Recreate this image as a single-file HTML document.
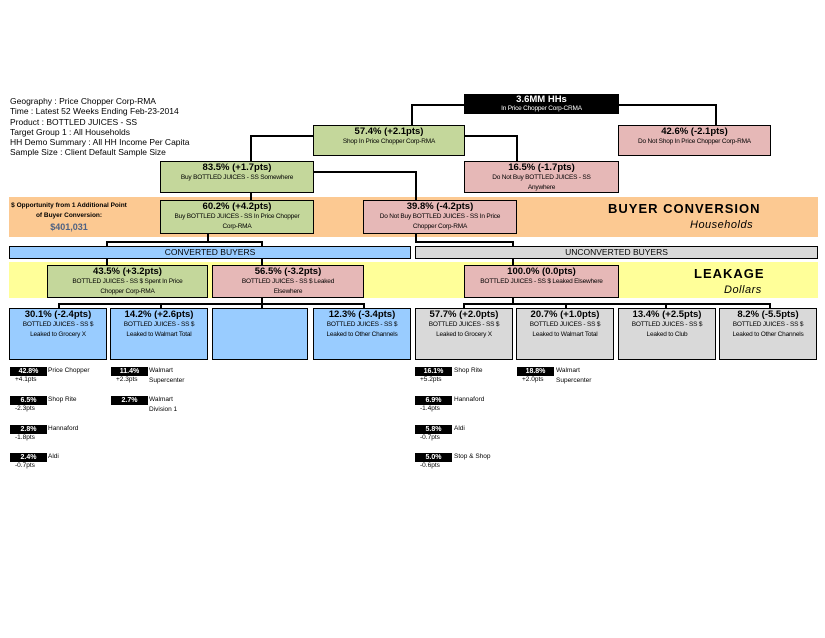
<!DOCTYPE html>
<html><head><meta charset="utf-8"><style>
body{margin:0;width:825px;height:638px;background:#fff;position:relative;overflow:hidden;font-family:"Liberation Sans",Arial,sans-serif;}
body>div{position:absolute;box-sizing:border-box;}
.b{border:1.5px solid #000;text-align:center;color:#000;}
.t{font-size:9.5px;font-weight:bold;line-height:11px;margin-top:0px;}
.s{font-size:6.5px;line-height:9.5px;letter-spacing:-0.2px;}
.g{background:#c4d79b;}.p{background:#e6b8b7;}.bl{background:#99ccff;}.gr{background:#d9d9d9;}
.h{height:1.5px;background:#000;}.v{width:1.5px;background:#000;}
.tag{background:#000;color:#fff;font-size:7px;font-weight:bold;text-align:center;width:37px;height:9px;line-height:9px;}
.lb{font-size:6.5px;line-height:10px;color:#000;}
.pt{font-size:6.5px;color:#000;}
</style></head><body>
<div style="left:10px;top:96px;font-size:8.5px;line-height:10.3px;">Geography : Price Chopper Corp-RMA<br>Time : Latest 52 Weeks Ending Feb-23-2014<br>Product : BOTTLED JUICES - SS<br>Target Group 1 : All Households<br>HH Demo Summary : All HH Income Per Capita<br>Sample Size : Client Default Sample Size</div>

<div style="left:9px;top:197px;width:809px;height:40px;background:#fcc992"></div>
<div style="left:9px;top:262px;width:809px;height:36px;background:#ffff99"></div>

<!-- connectors -->
<div class="h" style="left:411px;top:104px;width:53px"></div>
<div class="v" style="left:411px;top:104px;height:21px"></div>
<div class="h" style="left:619px;top:104px;width:97px"></div>
<div class="v" style="left:715px;top:104px;height:21px"></div>
<div class="h" style="left:250px;top:135px;width:63px"></div>
<div class="v" style="left:250px;top:135px;height:26px"></div>
<div class="h" style="left:465px;top:135px;width:52px"></div>
<div class="v" style="left:516px;top:135px;height:26px"></div>
<div class="v" style="left:250px;top:192px;height:8px"></div>
<div class="h" style="left:313px;top:171px;width:103px"></div>
<div class="v" style="left:415px;top:171px;height:29px"></div>
<div class="v" style="left:207px;top:233px;height:8px"></div>
<div class="h" style="left:106px;top:241px;width:156px"></div>
<div class="v" style="left:106px;top:241px;height:6px"></div>
<div class="v" style="left:261px;top:241px;height:6px"></div>
<div class="v" style="left:415px;top:233px;height:8px"></div>
<div class="h" style="left:415px;top:241px;width:98px"></div>
<div class="v" style="left:512px;top:241px;height:6px"></div>
<div class="v" style="left:106px;top:258px;height:7px"></div>
<div class="v" style="left:261px;top:258px;height:7px"></div>
<div class="v" style="left:512px;top:258px;height:7px"></div>
<div class="v" style="left:261px;top:297px;height:6px"></div>
<div class="h" style="left:58px;top:303px;width:306px"></div>
<div class="v" style="left:58px;top:303px;height:5px"></div>
<div class="v" style="left:160px;top:303px;height:5px"></div>
<div class="v" style="left:261px;top:303px;height:5px"></div>
<div class="v" style="left:363px;top:303px;height:5px"></div>
<div class="v" style="left:512px;top:297px;height:6px"></div>
<div class="h" style="left:463px;top:303px;width:308px"></div>
<div class="v" style="left:463px;top:303px;height:5px"></div>
<div class="v" style="left:565px;top:303px;height:5px"></div>
<div class="v" style="left:665px;top:303px;height:5px"></div>
<div class="v" style="left:769px;top:303px;height:5px"></div>

<!-- boxes -->
<div class="b" style="left:464px;top:94px;width:155px;height:20px;background:#000;color:#fff"><div class="t" style="margin-top:0;line-height:10px">3.6MM HHs</div><div class="s" style="line-height:7px">In Price Chopper Corp-CRMA</div></div>
<div class="b g" style="left:313px;top:125px;width:152px;height:31px"><div class="t">57.4% (+2.1pts)</div><div class="s">Shop In Price Chopper Corp-RMA</div></div>
<div class="b p" style="left:618px;top:125px;width:153px;height:31px"><div class="t">42.6% (-2.1pts)</div><div class="s">Do Not Shop In Price Chopper Corp-RMA</div></div>
<div class="b g" style="left:160px;top:161px;width:154px;height:32px"><div class="t">83.5% (+1.7pts)</div><div class="s">Buy BOTTLED JUICES - SS Somewhere</div></div>
<div class="b p" style="left:464px;top:161px;width:155px;height:32px"><div class="t">16.5% (-1.7pts)</div><div class="s">Do Not Buy BOTTLED JUICES - SS<br>Anywhere</div></div>
<div class="b g" style="left:160px;top:200px;width:154px;height:34px"><div class="t">60.2% (+4.2pts)</div><div class="s">Buy BOTTLED JUICES - SS In Price Chopper<br>Corp-RMA</div></div>
<div class="b p" style="left:363px;top:200px;width:154px;height:34px"><div class="t">39.8% (-4.2pts)</div><div class="s">Do Not Buy BOTTLED JUICES - SS In Price<br>Chopper Corp-RMA</div></div>

<div style="left:4px;top:201px;width:130px;text-align:center;font-size:6.5px;font-weight:bold;line-height:10px">$ Opportunity from 1 Additional Point<br>of Buyer Conversion:</div>
<div style="left:4px;top:222px;width:130px;text-align:center;font-size:9px;font-weight:bold;color:#4f6283">$401,031</div>
<div style="left:608px;top:201px;font-size:13px;font-weight:bold;letter-spacing:1px">BUYER CONVERSION</div>
<div style="left:690px;top:219px;font-size:11px;font-style:italic;letter-spacing:0.5px">Households</div>
<div style="left:694px;top:266px;font-size:13px;font-weight:bold;letter-spacing:1px">LEAKAGE</div>
<div style="left:724px;top:284px;font-size:11px;font-style:italic;letter-spacing:0.5px">Dollars</div>

<div class="b bl" style="left:9px;top:246px;width:402px;height:13px;font-size:8.5px;line-height:10px">CONVERTED BUYERS</div>
<div class="b gr" style="left:415px;top:246px;width:403px;height:13px;font-size:8.5px;line-height:10px">UNCONVERTED BUYERS</div>

<div class="b g" style="left:47px;top:265px;width:161px;height:33px"><div class="t">43.5% (+3.2pts)</div><div class="s">BOTTLED JUICES - SS $ Spent In Price<br>Chopper Corp-RMA</div></div>
<div class="b p" style="left:212px;top:265px;width:152px;height:33px"><div class="t">56.5% (-3.2pts)</div><div class="s">BOTTLED JUICES - SS $ Leaked<br>Elsewhere</div></div>
<div class="b p" style="left:464px;top:265px;width:155px;height:33px"><div class="t">100.0% (0.0pts)</div><div class="s">BOTTLED JUICES - SS $ Leaked Elsewhere</div></div>

<div class="b bl" style="left:9px;top:308px;width:98px;height:52px"><div class="t">30.1% (-2.4pts)</div><div class="s">BOTTLED JUICES - SS $<br>Leaked to Grocery X</div></div>
<div class="b bl" style="left:110px;top:308px;width:98px;height:52px"><div class="t">14.2% (+2.6pts)</div><div class="s">BOTTLED JUICES - SS $<br>Leaked to Walmart Total</div></div>
<div class="b bl" style="left:212px;top:308px;width:96px;height:52px"></div>
<div class="b bl" style="left:313px;top:308px;width:98px;height:52px"><div class="t">12.3% (-3.4pts)</div><div class="s">BOTTLED JUICES - SS $<br>Leaked to Other Channels</div></div>
<div class="b gr" style="left:415px;top:308px;width:98px;height:52px"><div class="t">57.7% (+2.0pts)</div><div class="s">BOTTLED JUICES - SS $<br>Leaked to Grocery X</div></div>
<div class="b gr" style="left:516px;top:308px;width:98px;height:52px"><div class="t">20.7% (+1.0pts)</div><div class="s">BOTTLED JUICES - SS $<br>Leaked to Walmart Total</div></div>
<div class="b gr" style="left:618px;top:308px;width:98px;height:52px"><div class="t">13.4% (+2.5pts)</div><div class="s">BOTTLED JUICES - SS $<br>Leaked to Club</div></div>
<div class="b gr" style="left:719px;top:308px;width:98px;height:52px"><div class="t">8.2% (-5.5pts)</div><div class="s">BOTTLED JUICES - SS $<br>Leaked to Other Channels</div></div>

<!-- tags -->
<div class="tag" style="left:10px;top:367px">42.8%</div><div class="lb" style="left:48px;top:366px">Price Chopper</div><div class="pt" style="left:15px;top:376px">+4.1pts</div>
<div class="tag" style="left:10px;top:396px">6.5%</div><div class="lb" style="left:48px;top:395px">Shop Rite</div><div class="pt" style="left:15px;top:405px">-2.3pts</div>
<div class="tag" style="left:10px;top:425px">2.8%</div><div class="lb" style="left:48px;top:424px">Hannaford</div><div class="pt" style="left:15px;top:434px">-1.8pts</div>
<div class="tag" style="left:10px;top:453px">2.4%</div><div class="lb" style="left:48px;top:452px">Aldi</div><div class="pt" style="left:15px;top:462px">-0.7pts</div>
<div class="tag" style="left:111px;top:367px">11.4%</div><div class="lb" style="left:149px;top:366px">Walmart<br>Supercenter</div><div class="pt" style="left:116px;top:376px">+2.3pts</div>
<div class="tag" style="left:111px;top:396px">2.7%</div><div class="lb" style="left:149px;top:395px">Walmart<br>Division 1</div>
<div class="tag" style="left:415px;top:367px">16.1%</div><div class="lb" style="left:454px;top:366px">Shop Rite</div><div class="pt" style="left:420px;top:376px">+5.2pts</div>
<div class="tag" style="left:415px;top:396px">6.9%</div><div class="lb" style="left:454px;top:395px">Hannaford</div><div class="pt" style="left:420px;top:405px">-1.4pts</div>
<div class="tag" style="left:415px;top:425px">5.8%</div><div class="lb" style="left:454px;top:424px">Aldi</div><div class="pt" style="left:420px;top:434px">-0.7pts</div>
<div class="tag" style="left:415px;top:453px">5.0%</div><div class="lb" style="left:454px;top:452px">Stop &amp; Shop</div><div class="pt" style="left:420px;top:462px">-0.6pts</div>
<div class="tag" style="left:517px;top:367px">18.8%</div><div class="lb" style="left:556px;top:366px">Walmart<br>Supercenter</div><div class="pt" style="left:522px;top:376px">+2.0pts</div>
</body></html>
